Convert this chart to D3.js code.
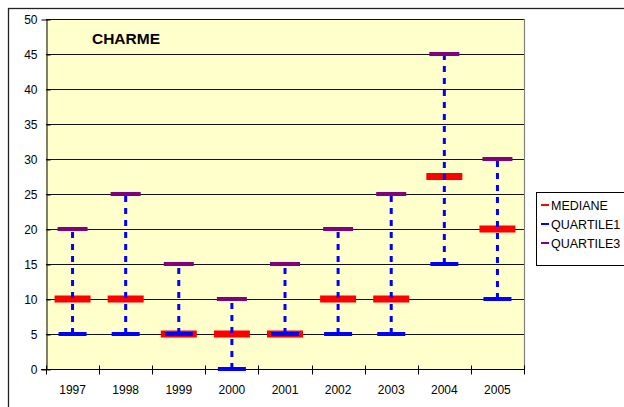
<!DOCTYPE html>
<html>
<head>
<meta charset="utf-8">
<script src="https://cdn.jsdelivr.net/npm/d3@7"></script>
<style>
  html, body { margin: 0; padding: 0; background: #fff; }
  svg { display: block; font-family: "Liberation Sans", Arial, sans-serif; }
</style>
</head>
<body>
<svg id="chart" width="624" height="407"></svg>
<script>
// Yearly values for CHARME: median and quartiles
const years = ["1997", "1998", "1999", "2000", "2001", "2002", "2003", "2004", "2005"];
const mediane = [10, 10, 5, 5, 5, 10, 10, 27.5, 20];
const quartile1 = [5, 5, 5, 0, 5, 5, 5, 15, 10];
const quartile3 = [20, 25, 15, 10, 15, 20, 25, 45, 30];
const yTicks = [0, 5, 10, 15, 20, 25, 30, 35, 40, 45, 50];
const seriesNames = ["MEDIANE", "QUARTILE1", "QUARTILE3"];
const seriesColors = ["#ff0000", "#0000ff", "#800080"];

const svg = d3.select("#chart");

// outer chart frame
svg.append("rect")
  .attr("x", 8.5).attr("y", 8.5)
  .attr("width", 640).attr("height", 420)
  .attr("fill", "#fff").attr("stroke", "#222").attr("stroke-width", 1.3);

const plot = { left: 46, right: 524, top: 19, bottom: 369 };

const x = d3.scaleBand().domain(years).range([plot.left, plot.right]).padding(0);
const y = d3.scaleLinear().domain([0, 50]).range([plot.bottom, plot.top]);

// plot background
svg.append("rect")
  .attr("x", plot.left).attr("y", plot.top)
  .attr("width", plot.right - plot.left).attr("height", plot.bottom - plot.top)
  .attr("fill", "#ffffcc");

// gridlines
svg.append("g").selectAll("line").data(yTicks.filter(d => d > 0)).join("line")
  .attr("x1", plot.left).attr("x2", plot.right)
  .attr("y1", d => Math.round(y(d)) + 0.5).attr("y2", d => Math.round(y(d)) + 0.5)
  .attr("stroke", "#111").attr("stroke-width", 1);

// right border of plot area
svg.append("line")
  .attr("x1", plot.right + 0.5).attr("x2", plot.right + 0.5)
  .attr("y1", plot.top).attr("y2", plot.bottom)
  .attr("stroke", "#808080").attr("stroke-width", 1.2);

// y axis with crossing tick marks
const yAxis = svg.append("g")
  .attr("transform", `translate(${plot.left + 0.5},0.5)`)
  .call(d3.axisLeft(y).tickValues(yTicks).tickSize(5).tickPadding(4));
yAxis.select(".domain").attr("stroke", "#000");
yAxis.selectAll(".tick line").attr("stroke", "#000").attr("x2", 4);
yAxis.selectAll("text").attr("font-size", 12).attr("fill", "#000")
  .attr("font-family", "Liberation Sans, Arial, sans-serif");

// x axis: crossing ticks between categories
const xg = svg.append("g").attr("transform", `translate(0,${plot.bottom + 0.5})`);
xg.append("line").attr("x1", plot.left - 5).attr("x2", plot.right + 1)
  .attr("stroke", "#000");
const bounds = years.map(d => x(d)).concat([x(years[years.length - 1]) + x.bandwidth()]);
xg.selectAll("line.tk").data(bounds).join("line").attr("class", "tk")
  .attr("x1", d => Math.round(d) + 0.5).attr("x2", d => Math.round(d) + 0.5)
  .attr("y1", -4).attr("y2", 5).attr("stroke", "#000");
xg.selectAll("text").data(years).join("text")
  .attr("x", d => x(d) + x.bandwidth() / 2)
  .attr("y", 24.5)
  .attr("text-anchor", "middle")
  .attr("font-size", 12)
  .attr("fill", "#000")
  .text(d => d);

const cx = d => x(d) + x.bandwidth() / 2;
const marks = svg.append("g");

// median markers
marks.selectAll("rect.med").data(years).join("rect").attr("class", "med")
  .attr("x", d => cx(d) - 18).attr("width", 36)
  .attr("y", (d, i) => y(mediane[i]) - 3.5).attr("height", 7)
  .attr("fill", seriesColors[0]);

// first quartile markers
marks.selectAll("rect.q1").data(years).join("rect").attr("class", "q1")
  .attr("x", d => cx(d) - 14).attr("width", 28)
  .attr("y", (d, i) => y(quartile1[i]) - 2).attr("height", 4)
  .attr("fill", seriesColors[1]);

// third quartile markers
marks.selectAll("rect.q3").data(years).join("rect").attr("class", "q3")
  .attr("x", d => cx(d) - 15).attr("width", 30)
  .attr("y", (d, i) => y(quartile3[i]) - 2).attr("height", 4)
  .attr("fill", seriesColors[2]);

// high-low dashed lines between quartiles
marks.selectAll("line.hl").data(years).join("line").attr("class", "hl")
  .attr("x1", cx).attr("x2", cx)
  .attr("y1", (d, i) => y(quartile1[i]))
  .attr("y2", (d, i) => y(quartile3[i]) + 2)
  .attr("stroke", "#0000ff").attr("stroke-width", 3)
  .attr("stroke-dasharray", "6,6");

// title
svg.append("text")
  .attr("x", 126).attr("y", 44)
  .attr("text-anchor", "middle")
  .attr("font-size", 15.5).attr("font-weight", "bold")
  .attr("fill", "#000")
  .text("CHARME");

// legend
const lg = svg.append("g");
lg.append("rect")
  .attr("x", 536.5).attr("y", 192.5)
  .attr("width", 100).attr("height", 73)
  .attr("fill", "#fff").attr("stroke", "#000").attr("stroke-width", 1);
const rows = [205, 224, 243];
seriesNames.forEach((name, i) => {
  lg.append("line")
    .attr("x1", 541).attr("x2", 549)
    .attr("y1", rows[i]).attr("y2", rows[i])
    .attr("stroke", seriesColors[i]).attr("stroke-width", 2);
  lg.append("text")
    .attr("x", 551).attr("y", rows[i] + 4.5)
    .attr("font-size", 12.5).attr("fill", "#000")
    .text(name);
});
</script>
</body>
</html>
